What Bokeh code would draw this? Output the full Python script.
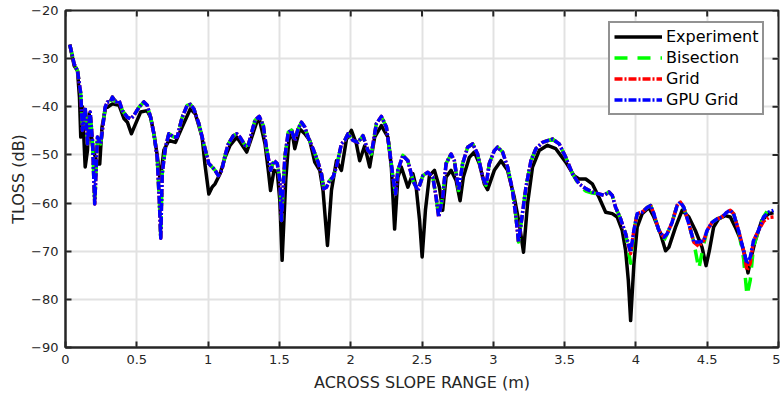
import math
from bokeh.plotting import figure
from bokeh.models import (FixedTicker, CustomJSTickFormatter, Legend,
                          LegendItem, Range1d)
from bokeh.embed import file_html
from bokeh.resources import INLINE

# ---------------- data ----------------
x_ticks = [0, 0.5, 1, 1.5, 2, 2.5, 3, 3.5, 4, 4.5, 5]
y_ticks = [-90, -80, -70, -60, -50, -40, -30, -20]

model_x = [0.030, 0.061, 0.084, 0.107, 0.119, 0.138, 0.154, 0.173, 0.189, 0.205,
           0.224, 0.247, 0.278, 0.294, 0.313, 0.329, 0.352, 0.376, 0.399, 0.434,
           0.457, 0.480, 0.515, 0.550, 0.573, 0.597, 0.620, 0.643, 0.659, 0.668,
           0.678, 0.701, 0.725, 0.760, 0.783, 0.818, 0.853, 0.876, 0.900, 0.935,
           0.970, 1.005, 1.028, 1.049, 1.072, 1.096, 1.119, 1.142, 1.177, 1.201,
           1.224, 1.259, 1.282, 1.306, 1.329, 1.359, 1.387, 1.410, 1.438, 1.462,
           1.485, 1.503, 1.515, 1.538, 1.562, 1.585, 1.608, 1.631, 1.655, 1.678,
           1.701, 1.736, 1.771, 1.795, 1.811, 1.830, 1.853, 1.876, 1.900, 1.935,
           1.958, 1.981, 2.016, 2.051, 2.086, 2.121, 2.145, 2.180, 2.215, 2.250,
           2.273, 2.296, 2.315, 2.331, 2.366, 2.401, 2.436, 2.471, 2.506, 2.541,
           2.576, 2.599, 2.617, 2.645, 2.669, 2.704, 2.727, 2.757, 2.785, 2.820,
           2.855, 2.890, 2.925, 2.949, 2.972, 3.007, 3.030, 3.065, 3.100, 3.135,
           3.159, 3.177, 3.201, 3.229, 3.264, 3.299, 3.345, 3.415, 3.462, 3.508,
           3.555, 3.601, 3.648, 3.694, 3.741, 3.776, 3.811, 3.834, 3.858, 3.893,
           3.928, 3.963, 3.986, 4.009, 4.044, 4.079, 4.103, 4.126, 4.161, 4.196,
           4.219, 4.254, 4.289, 4.312, 4.336, 4.371, 4.406, 4.441, 4.476, 4.499,
           4.534, 4.569, 4.603, 4.638, 4.662, 4.685, 4.720, 4.755, 4.779, 4.802,
           4.825, 4.860, 4.895, 4.930, 4.965]

gpu_grid_y = [-27.1, -31.1, -32.5, -37.3, -44.9, -40.1, -47.7, -41.1, -47.0, -60.2,
              -46.3, -47.7, -40.1, -39.0, -39.0, -38.0, -39.0, -38.7, -40.8, -42.2,
              -42.5, -41.8, -40.1, -39.0, -39.7, -42.2, -45.6, -50.5, -60.2, -67.3,
              -53.9, -48.4, -45.6, -46.3, -46.3, -42.2, -39.7, -39.5, -40.4, -43.5,
              -47.7, -51.8, -52.5, -53.2, -54.3, -53.2, -50.1, -47.7, -46.0, -45.6,
              -46.3, -48.0, -48.0, -45.3, -42.8, -42.0, -43.9, -48.7, -53.2, -51.2,
              -51.8, -55.3, -63.6, -50.5, -45.3, -44.9, -47.0, -44.6, -43.2, -44.2,
              -46.3, -48.7, -51.5, -53.9, -57.0, -56.7, -55.3, -54.6, -52.5, -47.7,
              -47.0, -45.6, -47.0, -47.4, -46.0, -49.1, -49.8, -43.5, -42.0, -44.2,
              -49.1, -54.6, -58.1, -53.2, -50.1, -51.2, -55.3, -57.4, -54.3, -53.6,
              -54.6, -58.8, -62.9, -58.8, -51.8, -49.8, -51.2, -57.4, -51.8, -48.4,
              -47.7, -49.8, -54.6, -56.3, -51.8, -49.1, -48.4, -49.4, -52.5, -57.4,
              -62.9, -68.1, -62.9, -56.7, -51.2, -48.7, -47.4, -46.7, -47.7, -50.5,
              -53.9, -56.0, -57.0, -57.7, -58.1, -58.4, -57.7, -58.4, -60.9, -63.3,
              -66.4, -70.2, -65.7, -62.2, -61.9, -60.9, -60.5, -62.2, -65.7, -67.1,
              -66.4, -64.0, -60.5, -59.8, -60.9, -64.3, -68.1, -68.1, -67.8, -65.7,
              -64.0, -63.3, -62.9, -61.9, -61.5, -62.2, -65.7, -69.9, -72.6, -71.2,
              -67.8, -65.7, -62.9, -61.9, -61.5]

bisection_y = [-27.1, -31.1, -32.5, -37.3, -44.9, -40.1, -47.7, -41.1, -47.0, -60.2,
               -46.3, -47.7, -40.1, -39.0, -39.0, -38.0, -39.0, -38.7, -40.8, -42.2,
               -42.5, -41.8, -40.1, -39.0, -39.7, -42.2, -45.6, -50.5, -60.2, -67.3,
               -53.9, -48.4, -45.6, -46.3, -46.3, -42.2, -39.7, -39.5, -40.4, -43.5,
               -47.7, -51.8, -52.5, -53.2, -54.3, -53.2, -50.1, -47.7, -46.0, -45.6,
               -46.3, -48.0, -48.0, -45.3, -42.8, -42.0, -43.9, -48.7, -53.2, -51.2,
               -51.8, -55.3, -63.6, -50.5, -45.3, -44.9, -47.0, -44.6, -43.2, -44.2,
               -46.3, -48.7, -51.5, -53.9, -57.0, -56.7, -55.3, -54.6, -52.5, -47.7,
               -47.0, -45.6, -47.0, -47.4, -46.0, -49.1, -49.8, -43.5, -42.0, -44.2,
               -49.1, -54.6, -58.1, -53.2, -50.1, -51.2, -55.3, -57.4, -54.3, -53.6,
               -54.6, -58.8, -62.9, -58.8, -51.8, -49.8, -51.2, -57.4, -51.8, -48.4,
               -47.7, -49.8, -54.6, -56.3, -51.8, -49.1, -48.4, -49.4, -52.5, -57.4,
               -62.9, -68.1, -62.9, -56.7, -51.2, -48.7, -47.4, -46.7, -47.7, -50.5,
               -53.9, -56.3, -57.5, -57.9, -58.1, -58.4, -57.7, -58.4, -60.9, -63.3,
               -66.4, -72.5, -65.7, -62.2, -61.9, -60.9, -60.5, -62.2, -65.7, -67.8,
               -66.4, -64.0, -60.5, -59.8, -60.9, -64.3, -68.1, -73.7, -68.5, -65.7,
               -64.0, -63.3, -62.9, -61.9, -61.5, -62.2, -65.7, -71.5, -79.2, -76.0,
               -69.0, -65.7, -62.9, -61.2, -60.8]

grid_y = [-27.1, -31.1, -32.5, -37.3, -44.9, -40.1, -47.7, -41.1, -47.0, -60.2,
          -46.3, -47.7, -40.1, -39.0, -39.0, -38.0, -39.0, -38.7, -40.8, -42.2,
          -42.5, -41.8, -40.1, -39.0, -39.7, -42.2, -45.6, -50.5, -60.2, -67.3,
          -53.9, -48.4, -45.6, -46.3, -46.3, -42.2, -39.7, -39.5, -40.4, -43.5,
          -47.7, -51.8, -52.5, -53.2, -54.3, -53.2, -50.1, -47.7, -46.0, -45.6,
          -46.3, -48.0, -48.0, -45.3, -42.8, -42.0, -43.9, -48.7, -53.2, -51.2,
          -51.8, -55.3, -63.6, -50.5, -45.3, -44.9, -47.0, -44.6, -43.2, -44.2,
          -46.3, -48.7, -51.5, -53.9, -57.0, -56.7, -55.3, -54.6, -52.5, -47.7,
          -47.0, -45.6, -47.0, -47.4, -46.0, -49.1, -49.8, -43.5, -42.0, -44.2,
          -49.1, -54.6, -58.1, -53.2, -50.1, -51.2, -55.3, -57.4, -54.3, -53.6,
          -54.6, -58.8, -62.9, -58.8, -51.8, -49.8, -51.2, -57.4, -51.8, -48.4,
          -47.7, -49.8, -54.6, -56.3, -51.8, -49.1, -48.4, -49.4, -52.5, -57.4,
          -62.9, -68.1, -62.9, -56.7, -51.2, -48.7, -47.4, -46.7, -47.7, -50.5,
          -53.9, -56.0, -57.0, -57.7, -58.1, -58.4, -57.7, -58.4, -60.9, -63.3,
          -66.4, -70.5, -65.7, -62.2, -61.9, -60.9, -60.5, -62.2, -65.7, -67.1,
          -66.4, -64.0, -60.5, -59.8, -60.9, -64.3, -68.1, -69.0, -67.8, -65.7,
          -64.0, -63.3, -62.9, -61.9, -61.5, -62.2, -65.7, -69.9, -74.0, -72.5,
          -67.8, -65.7, -63.8, -63.0, -62.9]

exp_x = [0.030, 0.061, 0.084, 0.098, 0.107, 0.119, 0.138, 0.154, 0.166, 0.189,
         0.205, 0.224, 0.240, 0.256, 0.282, 0.294, 0.329, 0.376, 0.411, 0.434,
         0.462, 0.492, 0.527, 0.573, 0.597, 0.620, 0.643, 0.664, 0.690, 0.725,
         0.771, 0.818, 0.876, 0.911, 0.958, 0.978, 1.005, 1.028, 1.049, 1.084,
         1.119, 1.154, 1.201, 1.271, 1.306, 1.341, 1.359, 1.399, 1.422, 1.438,
         1.462, 1.485, 1.503, 1.519, 1.545, 1.566, 1.587, 1.608, 1.643, 1.678,
         1.713, 1.748, 1.783, 1.806, 1.837, 1.865, 1.900, 1.935, 1.970, 2.005,
         2.040, 2.063, 2.098, 2.133, 2.168, 2.215, 2.261, 2.285, 2.308, 2.331,
         2.355, 2.401, 2.436, 2.459, 2.483, 2.501, 2.524, 2.552, 2.587, 2.622,
         2.645, 2.669, 2.704, 2.739, 2.767, 2.790, 2.832, 2.867, 2.902, 2.937,
         2.960, 3.007, 3.054, 3.100, 3.147, 3.182, 3.212, 3.240, 3.275, 3.322,
         3.380, 3.438, 3.508, 3.566, 3.601, 3.648, 3.694, 3.741, 3.788, 3.834,
         3.869, 3.904, 3.928, 3.947, 3.963, 3.986, 4.009, 4.044, 4.091, 4.126,
         4.173, 4.208, 4.231, 4.278, 4.324, 4.371, 4.417, 4.464, 4.492, 4.515,
         4.545, 4.580, 4.627, 4.662, 4.697, 4.732, 4.767, 4.786, 4.809, 4.837,
         4.883, 4.930, 4.965]

exp_y = [-27.1, -31.5, -32.5, -38.0, -46.3, -40.0, -52.5, -49.1, -41.5, -48.0,
         -50.0, -51.9, -51.9, -44.2, -40.1, -40.1, -39.4, -39.7, -42.5, -43.2,
         -45.6, -43.5, -41.1, -40.8, -42.2, -45.6, -50.0, -55.3, -49.0, -47.0,
         -47.4, -44.2, -40.4, -41.5, -46.3, -52.0, -58.1, -56.7, -56.0, -53.9,
         -50.5, -48.0, -46.3, -49.4, -46.3, -43.2, -42.5, -47.7, -53.2, -57.4,
         -53.2, -53.5, -59.5, -71.9, -55.0, -47.0, -44.9, -48.7, -44.6, -45.6,
         -47.0, -51.5, -53.2, -57.4, -68.8, -57.4, -51.2, -53.2, -46.8, -44.9,
         -47.7, -51.2, -48.1, -52.5, -46.3, -43.9, -46.3, -52.5, -65.4, -54.6,
         -52.5, -56.7, -53.9, -56.7, -63.6, -71.2, -61.5, -54.3, -53.2, -56.7,
         -61.5, -54.6, -53.2, -55.3, -59.5, -54.6, -50.5, -49.4, -51.8, -56.0,
         -57.2, -53.2, -51.2, -53.2, -58.8, -64.3, -70.2, -60.2, -52.5, -49.1,
         -48.0, -48.7, -51.5, -54.3, -55.0, -55.0, -56.0, -58.8, -61.9, -62.2,
         -62.9, -65.7, -69.9, -76.1, -84.4, -72.6, -65.0, -62.2, -60.9, -62.9,
         -66.4, -69.9, -69.2, -65.0, -61.5, -62.9, -65.7, -69.2, -73.0, -69.9,
         -65.0, -63.3, -62.6, -62.9, -65.0, -67.4, -71.2, -74.5, -71.2, -67.8,
         -63.6, -62.2, -62.0]

# ---------------- figure ----------------
FONT = "DejaVu Sans"
TXT = "#262626"

p = figure(width=780, height=397, x_range=Range1d(0, 5), y_range=Range1d(-90, -20),
           output_backend="svg", toolbar_location=None,
           min_border_left=65, min_border_right=2, min_border_top=10, min_border_bottom=50)
p.background_fill_color = "white"
p.border_fill_color = "white"
p.outline_line_color = TXT
p.outline_line_width = 2

xfmt = CustomJSTickFormatter(code="return String(parseFloat(tick.toFixed(2)));")
yfmt = CustomJSTickFormatter(code="return tick.toFixed(0).replace('-', '\u2212');")

for ax in (p.xaxis[0], p.yaxis[0]):
    ax.axis_line_color = TXT
    ax.axis_line_width = 2
    ax.major_tick_line_color = TXT
    ax.major_tick_line_width = 2
    ax.major_tick_in = 6
    ax.major_tick_out = 0
    ax.minor_tick_line_color = None
    ax.major_label_text_font = FONT
    ax.major_label_text_font_size = "13px"
    ax.major_label_text_color = TXT
    ax.axis_label_text_font = FONT
    ax.axis_label_text_font_size = "16px"
    ax.axis_label_text_font_style = "normal"
    ax.axis_label_text_color = TXT

p.xaxis.ticker = FixedTicker(ticks=x_ticks)
p.yaxis.ticker = FixedTicker(ticks=y_ticks)
p.xaxis.formatter = xfmt
p.yaxis.formatter = yfmt
p.xaxis.axis_label = "ACROSS SLOPE RANGE (m)"
p.yaxis.axis_label = "TLOSS (dB)"
p.xaxis.major_label_standoff = 7
p.yaxis.major_label_standoff = 7
p.xaxis.axis_label_standoff = 6
p.yaxis.axis_label_standoff = 0

p.xgrid.ticker = FixedTicker(ticks=x_ticks)
p.ygrid.ticker = FixedTicker(ticks=y_ticks)
p.grid.grid_line_color = "#e2e2e2"
p.grid.grid_line_width = 2

# inward tick marks on the right and top edges of the box (half of each dash
# falls outside the frame and is clipped)
x_end = p.x_range.end
y_end = p.y_range.end
p.scatter([x_end] * len(y_ticks), y_ticks, marker="dash", size=12,
          line_color=TXT, line_width=2)
p.scatter(x_ticks, [y_end] * len(x_ticks), marker="dash", size=12, angle=math.pi / 2,
          line_color=TXT, line_width=2)

LW = 3.5
r_exp = p.line(exp_x, exp_y, line_color="black", line_width=LW, line_join="round")
r_bis = p.line(model_x, bisection_y, line_color="#00ff00", line_width=LW,
               line_dash="13 10", line_join="round")
r_grid = p.line(model_x, grid_y, line_color="#ff0000", line_width=LW,
                line_dash="8 2 2 2", line_join="round")
r_gpu = p.line(model_x, gpu_grid_y, line_color="#0000ff", line_width=LW,
               line_dash="8 2 2 2", line_join="round")

legend = Legend(items=[LegendItem(label="Experiment", renderers=[r_exp]),
                       LegendItem(label="Bisection", renderers=[r_bis]),
                       LegendItem(label="Grid", renderers=[r_grid]),
                       LegendItem(label="GPU Grid", renderers=[r_gpu])],
                location=(543, 232))
legend.border_line_color = TXT
legend.border_line_width = 2
legend.background_fill_color = "white"
legend.background_fill_alpha = 1
legend.label_text_font = FONT
legend.label_text_font_size = "16px"
legend.label_text_color = "black"
legend.glyph_width = 48
legend.glyph_height = 19
legend.label_height = 19
legend.spacing = 2
legend.padding = 4
legend.margin = 0
legend.label_standoff = 4
p.add_layout(legend, "center")

open("out.html", "w").write(file_html(p, INLINE))
